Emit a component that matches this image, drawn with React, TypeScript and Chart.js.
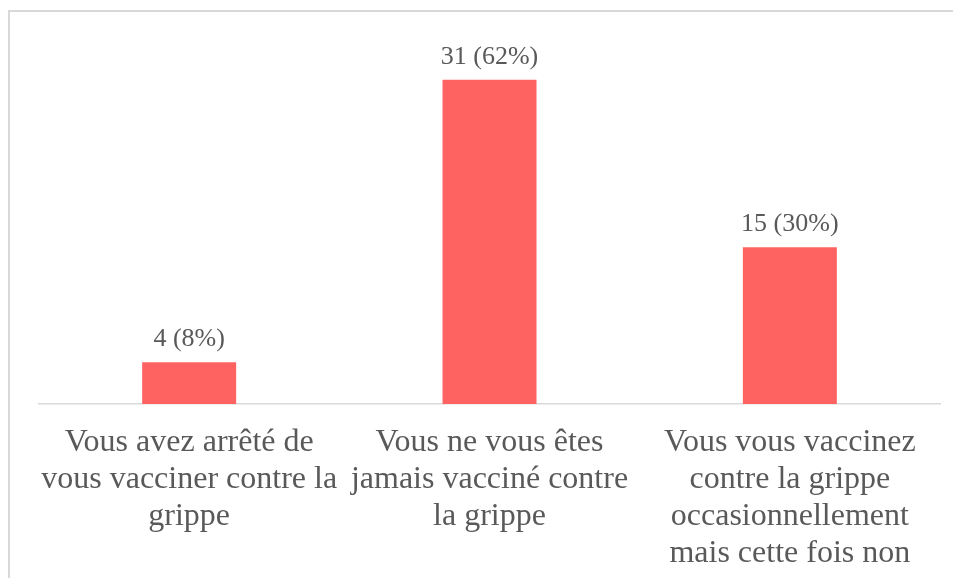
import React, { useEffect, useRef } from "react";
import { Chart, registerables } from "chart.js";

Chart.register(...registerables);

const categories: string[][] = [
  ["Vous avez arrêté de", "vous vacciner contre la", "grippe"],
  ["Vous ne vous êtes", "jamais vacciné contre", "la grippe"],
  ["Vous vous vaccinez", "contre la grippe", "occasionnellement", "mais cette fois non"],
];
const counts: number[] = [4, 31, 15];
const percents: string[] = ["8%", "62%", "30%"];

const FONT = '"Liberation Serif", "Times New Roman", serif';
const TEXT = "#595959";

export default function App() {
  const ref = useRef<HTMLCanvasElement | null>(null);
  useEffect(() => {
    let chart: any = null;
    let cancelled = false;
    const build = () => {
      if (cancelled || !ref.current) return;
      const labelPlugin = {
        id: "barLabels",
        afterDatasetsDraw(c: any) {
          const ctx = c.ctx;
          const meta = c.getDatasetMeta(0);
          ctx.save();
          ctx.font = `26px ${FONT}`;
          ctx.fillStyle = TEXT;
          ctx.textAlign = "center";
          ctx.textBaseline = "alphabetic";
          meta.data.forEach((el: any, i: number) => {
            ctx.fillText(`${counts[i]} (${percents[i]})`, el.x, el.y - 16);
          });
          ctx.restore();
        },
      };
      chart = new Chart(ref.current, {
        type: "bar",
        data: {
          labels: categories as any,
          datasets: [
            {
              data: counts,
              backgroundColor: "#FF6361",
              borderWidth: 0,
              barPercentage: 0.313,
              categoryPercentage: 1,
            },
          ],
        },
        options: {
          animation: false,
          responsive: false,
          maintainAspectRatio: false,
          layout: { padding: { left: 39, right: 13, top: 38, bottom: 0 } },
          plugins: { legend: { display: false }, tooltip: { enabled: false } },
          scales: {
            y: { display: false, min: 0, max: 35 },
            x: {
              grid: { display: false, drawTicks: false },
              border: { display: true, color: "#D9D9D9", width: 1.5 },
              ticks: {
                color: TEXT,
                font: { family: FONT, size: 32, lineHeight: 1.16 },
                padding: 20,
                maxRotation: 0,
                autoSkip: false,
              },
              afterFit: (scale: any) => {
                scale.height = 174;
              },
            },
          },
        },
        plugins: [labelPlugin],
      });
    };
    const fonts: any = (document as any).fonts;
    if (fonts && fonts.load) {
      Promise.all([
        fonts.load('32px "Liberation Serif"'),
        fonts.load('26px "Liberation Serif"'),
      ])
        .catch(() => null)
        .then(build);
    } else {
      build();
    }
    return () => {
      cancelled = true;
      if (chart) chart.destroy();
    };
  }, []);
  return (
    <div>
      <div
        style={{
          position: "fixed",
          left: 8,
          top: 10,
          width: 945,
          height: 568,
          borderLeft: "2px solid #D9D9D9",
          borderTop: "2px solid #D9D9D9",
          boxSizing: "border-box",
        }}
      />
      <canvas
        ref={ref}
        width={953}
        height={578}
        style={{ position: "fixed", left: 0, top: 0, width: 953, height: 578 }}
      />
    </div>
  );
}
